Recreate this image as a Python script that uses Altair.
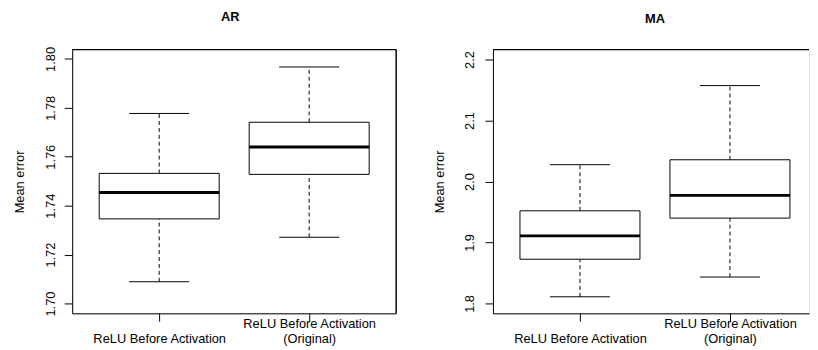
import altair as alt
import pandas as pd

FONT = "Liberation Sans"

# categories (x positions 1 and 2 in the R boxplot)
groups = ["ReLU Before Activation", "ReLU Before Activation (Original)"]
group_pos = [1, 2]
# tick label lines; the first label sits on the second line like R draws it
label_lines_1 = ["", "ReLU Before Activation"]
label_lines_2 = ["ReLU Before Activation", "(Original)"]

# AR panel: box statistics
ar_low = [1.7089, 1.7271]
ar_q1 = [1.7346, 1.7528]
ar_med = [1.7454, 1.7640]
ar_q3 = [1.7532, 1.7741]
ar_high = [1.7777, 1.7967]
ar_ticks = [1.70, 1.72, 1.74, 1.76, 1.78, 1.80]

# MA panel: box statistics
ma_low = [1.8109, 1.8433]
ma_q1 = [1.8725, 1.9399]
ma_med = [1.9108, 1.9772]
ma_q3 = [1.9519, 2.0356]
ma_high = [2.0275, 2.1572]
ma_ticks = [1.8, 1.9, 2.0, 2.1, 2.2]


def js_list(items):
    return "[" + ", ".join("'" + s + "'" for s in items) + "]"


LABEL_EXPR = (
    "datum.value == 1 ? " + js_list(label_lines_1) + " : " + js_list(label_lines_2)
)


def panel(title, low, q1, med, q3, high, ydomain, yticks, yfmt, width, xmax,
          label_pad, title_x, title_dx, right_edge):
    height = 267
    df = pd.DataFrame({"group": groups, "pos": group_pos, "low": low, "q1": q1,
                       "med": med, "q3": q3, "high": high})
    base = alt.Chart(df).transform_calculate(
        bl="datum.pos - 0.4", br="datum.pos + 0.4",
        cl="datum.pos - 0.2", cr="datum.pos + 0.2")
    xscale = alt.Scale(domain=[0.42, xmax], nice=False, zero=False)
    yscale = alt.Scale(domain=ydomain, nice=False, zero=False)
    xaxis = alt.Axis(values=group_pos, labelExpr=LABEL_EXPR, title=None, grid=False,
                     tickSize=8, labelPadding=9, labelBaseline="bottom",
                     labelAlign="center", labelAngle=0, labelLineHeight=16,
                     labelFontSize=13, labelFont=FONT, labelColor="black",
                     domainColor="black", tickColor="black", labelOverlap=False,
                     labelFlush=False)
    yaxis = alt.Axis(values=yticks, format=yfmt, title="Mean error", grid=False,
                     tickSize=8, labelAngle=270, labelAlign="center",
                     labelBaseline="alphabetic", labelPadding=label_pad,
                     labelFontSize=13, labelFont=FONT, labelColor="black",
                     domainColor="black", tickColor="black", labelOverlap=False,
                     labelFlush=False, titleX=title_x, titleAngle=270,
                     titleBaseline="alphabetic", titleAlign="center",
                     titleFontSize=13, titleFont=FONT, titleFontWeight="normal",
                     titleColor="black")

    def X(f):
        return alt.X(f + ":Q", scale=xscale, axis=xaxis)

    def Y(f):
        return alt.Y(f + ":Q", scale=yscale, axis=yaxis)

    whisk_lo = base.mark_rule(color="black", strokeWidth=1, strokeDash=[4, 3]).encode(
        x=X("pos"), y=Y("low"), y2="q1:Q")
    whisk_hi = base.mark_rule(color="black", strokeWidth=1, strokeDash=[4, 3]).encode(
        x=X("pos"), y=Y("q3"), y2="high:Q")
    box = base.mark_rect(fill="white", stroke="black", strokeWidth=1).encode(
        x=X("bl"), x2="br:Q", y=Y("q1"), y2="q3:Q")
    median = base.mark_rule(color="black", strokeWidth=3).encode(
        x=X("bl"), x2="br:Q", y=Y("med"))
    cap_lo = base.mark_rule(color="black", strokeWidth=1).encode(
        x=X("cl"), x2="cr:Q", y=Y("low"))
    cap_hi = base.mark_rule(color="black", strokeWidth=1).encode(
        x=X("cl"), x2="cr:Q", y=Y("high"))
    top = base.mark_rule(color="black", strokeWidth=1).encode(
        x=alt.value(0), x2=alt.value(width), y=alt.value(0))
    layers = [whisk_lo, whisk_hi, box, median, cap_lo, cap_hi, top]
    if right_edge:
        layers.append(base.mark_rule(color="black", strokeWidth=1).encode(
            x=alt.value(width), y=alt.value(0), y2=alt.value(height)))
    return alt.layer(*layers).properties(
        width=width, height=height,
        title=alt.TitleParams(title, font=FONT, fontSize=13, fontWeight="bold",
                              anchor="middle", baseline="alphabetic", offset=13,
                              dx=title_dx, color="black"))


left = panel("AR", ar_low, ar_q1, ar_med, ar_q3, ar_high, [1.6960, 1.8038],
             ar_ticks, ".2f", 328, 2.58, 10, -49, -4, True)
right = panel("MA", ma_low, ma_q1, ma_med, ma_q3, ma_high, [1.7838, 2.2162],
              ma_ticks, ".1f", 320, 2.527, 12, -50, 4, False)

chart = alt.hconcat(left, right, spacing=98, bounds="flush").properties(
    padding={"left": 5, "top": 0, "right": 0, "bottom": 0}
).configure_view(stroke="transparent").configure(font=FONT)

chart.save("out.html", embed_options={"renderer": "svg", "actions": False})
